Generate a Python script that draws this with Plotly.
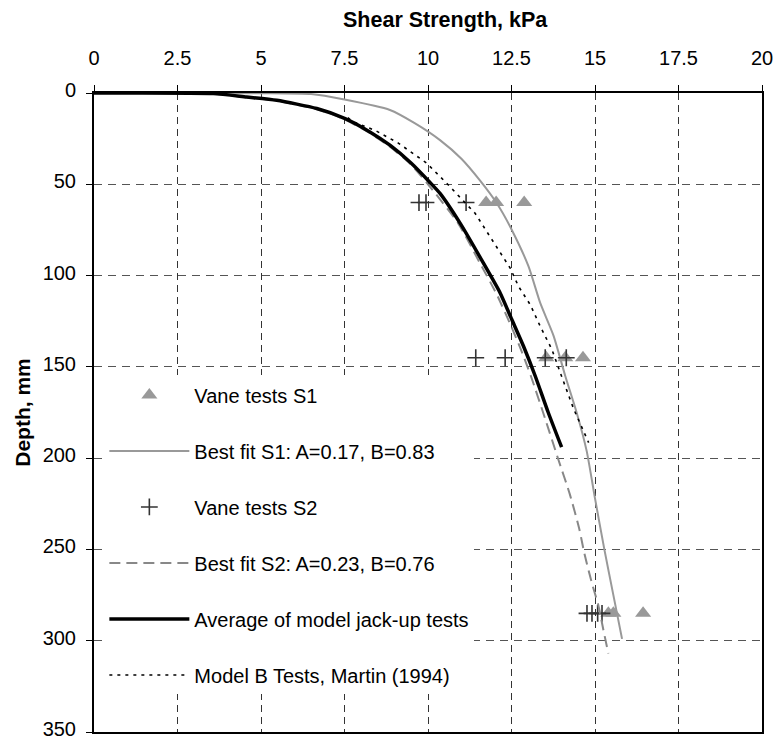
import plotly.graph_objects as go

# ---------------- data ----------------
s1_vane_x = [11.74, 12.04, 12.88, 13.54, 14.11, 14.64, 15.40, 15.55, 16.44]
s1_vane_d = [60, 60, 60, 145, 145, 145, 285, 285, 285]

s2_vane_x = [9.73, 9.94, 11.14, 11.43, 12.31, 13.51, 14.14, 14.76, 14.91, 15.08, 15.21]
s2_vane_d = [60, 60, 60, 145, 145, 145, 145, 285, 285, 285, 285]

s1_fit_x = [0.0, 5.0, 6.5, 7.5, 8.86, 9.6, 10.36, 11.0, 11.56, 12.06, 12.51, 13.01,
            13.36, 13.76, 14.11, 14.45, 14.75, 15.0, 15.28, 15.55, 15.81]
s1_fit_d = [0.0, 0.1, 0.6, 3.6, 9.3, 16.5, 25.8, 36.0, 48.0, 60.4, 75.0, 95.0,
            115.0, 133.0, 155.0, 175.0, 196.0, 222.0, 250.0, 275.0, 299.0]

s2_fit_x = [0.0, 3.5, 4.5, 5.4, 6.6, 7.45, 8.2, 8.8, 9.45, 10.0, 10.9, 11.55, 12.05,
            12.4, 12.75, 13.08, 13.5, 13.9, 14.25, 14.53, 14.68, 14.9, 15.1, 15.25, 15.4]
s2_fit_d = [0.0, 0.3, 2.2, 4.0, 8.5, 14.0, 21.3, 28.6, 38.5, 50.0, 71.3, 93.0, 110.0,
            124.0, 139.0, 155.0, 178.0, 200.6, 220.0, 238.8, 252.0, 268.0, 280.6, 294.0, 307.0]

avg_x = [0.0, 0.47, 3.57, 4.57, 5.47, 6.67, 7.52, 8.26, 8.86, 9.5, 10.06, 10.36, 10.96,
         11.66, 12.16, 12.51, 12.86, 13.21, 13.6, 14.0]
avg_d = [0.0, 0.0, 0.3, 2.2, 4.0, 8.5, 14.0, 21.3, 28.6, 38.5, 49.0, 55.0, 71.3,
         93.2, 109.5, 124.1, 138.7, 155.0, 175.0, 194.0]

martin_x = [7.6, 7.76, 8.41, 9.1, 9.96, 10.61, 11.41, 11.96, 12.46, 12.71, 13.06,
            13.36, 13.71, 13.96, 14.36, 14.81]
martin_d = [13.5, 15.8, 20.4, 27.3, 38.4, 50.4, 65.9, 81.3, 95.9, 105.9, 115.9,
            127.8, 140.5, 153.2, 173.0, 191.5]

x_ticks = [0, 2.5, 5, 7.5, 10, 12.5, 15, 17.5, 20]
x_tick_text = ["0", "2.5", "5", "7.5", "10", "12.5", "15", "17.5", "20"]
y_ticks = [0, 50, 100, 150, 200, 250, 300, 350]

FONT = "Liberation Sans, Arial, sans-serif"

fig = go.Figure()

fig.add_trace(go.Scatter(
    x=s1_vane_x, y=s1_vane_d, mode="markers", name="Vane tests S1",
    legendgroup="a",
    marker=dict(symbol="triangle-up", size=14, color="#999999", line=dict(width=0)),
))
fig.add_trace(go.Scatter(
    x=s1_fit_x, y=s1_fit_d, mode="lines", name="Best fit S1: A=0.17, B=0.83",
    legendgroup="b",
    line=dict(color="#999999", width=2, shape="spline", smoothing=0.6),
))
fig.add_trace(go.Scatter(
    x=s2_vane_x, y=s2_vane_d, mode="markers", name="Vane tests S2",
    legendgroup="c",
    marker=dict(symbol="cross-thin", size=12, color="#333333",
                line=dict(width=1.6, color="#333333")),
))
fig.add_trace(go.Scatter(
    x=s2_fit_x, y=s2_fit_d, mode="lines", name="Best fit S2: A=0.23, B=0.76",
    legendgroup="d",
    line=dict(color="#888888", width=2, dash="11px,6px", shape="spline", smoothing=0.6),
))
fig.add_trace(go.Scatter(
    x=avg_x, y=avg_d, mode="lines", name="Average of model jack-up tests",
    legendgroup="e",
    line=dict(color="#000000", width=3.5, shape="spline", smoothing=0.6),
))
fig.add_trace(go.Scatter(
    x=martin_x, y=martin_d, mode="lines", name="Model B Tests, Martin (1994)",
    legendgroup="f",
    line=dict(color="#000000", width=1.6, dash="3px,5px"),
))

fig.update_layout(
    width=776, height=742,
    margin=dict(l=94, r=14, t=93, b=10),
    paper_bgcolor="white", plot_bgcolor="white",
    font=dict(family=FONT, size=20, color="#000000"),
    showlegend=True,
    legend=dict(
        x=0.0155, y=0.558, xanchor="left", yanchor="top",
        bgcolor="white", borderwidth=0,
        font=dict(family=FONT, size=20, color="#000000"),
        itemwidth=80, tracegroupgap=27, traceorder="grouped",
    ),
    xaxis=dict(
        side="top", range=[0, 20], tickvals=x_ticks, ticktext=x_tick_text,
        automargin=False,
        showgrid=True, gridcolor="#333333", gridwidth=1, griddash="7px,5px",
        zeroline=False, showline=True, linecolor="#000000", linewidth=2,
        mirror=True, ticks="outside", ticklen=6, tickcolor="#000000",
        tickfont=dict(family=FONT, size=20), ticklabelstandoff=12,
    ),
    yaxis=dict(
        range=[350, 0], tickvals=y_ticks, automargin=False,
        ticklabeloverflow="allow", ticklabelshift=3,
        showgrid=True, gridcolor="#555555", gridwidth=1, griddash="8px,6px",
        zeroline=False, showline=True, linecolor="#000000", linewidth=2,
        mirror=True, ticks="outside", ticklen=6, tickcolor="#000000",
        tickfont=dict(family=FONT, size=20), ticklabelstandoff=6,
        title=dict(text="<b>Depth, mm</b>", font=dict(family=FONT, size=21),
                   standoff=6),
    ),
    annotations=[dict(
        text="<b>Shear Strength, kPa</b>", xref="paper", yref="paper",
        x=0.5256, y=1.0, yshift=73, xanchor="center", yanchor="middle",
        showarrow=False, font=dict(family=FONT, size=21.5, color="#000000"),
    )],
)

fig.write_html("out.html")
